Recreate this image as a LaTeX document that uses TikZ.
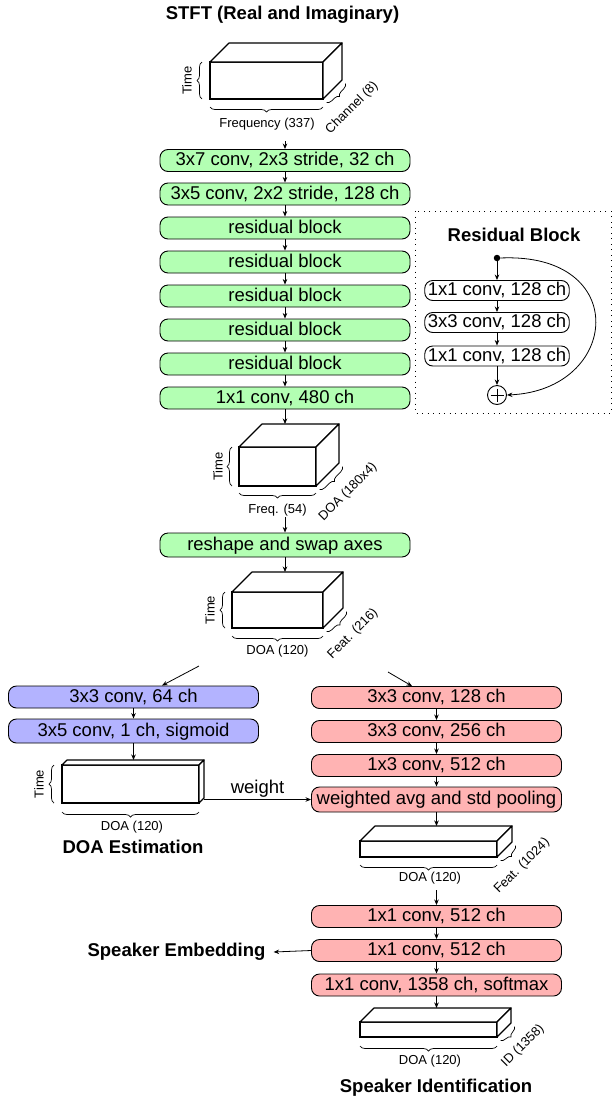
\documentclass[tikz,border=0pt]{standalone}
\usepackage{fontspec}
\setmainfont{Liberation Sans}
\usetikzlibrary{arrows.meta,decorations.pathreplacing,calc}

\definecolor{boxgreen}{RGB}{179,255,179}
\definecolor{boxblue}{RGB}{179,179,255}
\definecolor{boxred}{RGB}{255,179,179}

% cuboid: name, front-face centre x, y, width, height, depth
\newcommand\drawcube[6]{%
  \node[cubeface, minimum width=#4, minimum height=#5] (#1) at (#2,#3) {};
  \draw[cubeline] (#1.north west) -- ++(#6,-#6) -- ++(#4,0) -- (#1.north east) -- cycle;
  \draw[cubeline] (#1.north east) -- ++(#6,-#6) -- ++(0,#5) -- (#1.south east) -- cycle;
  \coordinate (#1-top) at ($(#1.north west)+(#6,-#6)$);
}

\begin{document}
\begin{tikzpicture}[x=1pt,y=-1pt,
  bigfont/.style={font=\fontsize{18.5}{22}\selectfont},
  smallfont/.style={font=\fontsize{13}{15}\selectfont},
  box/.style={draw, line width=0.9pt, rounded corners=8pt, minimum width=250pt,
    minimum height=22pt, inner sep=0pt, text height=13.5pt, text depth=3.5pt, bigfont},
  tallbox/.style={box, minimum height=24pt},
  rbox/.style={draw, line width=0.9pt, fill=white, rounded corners=8pt, inner xsep=3pt,
    inner ysep=0pt, minimum height=20pt, text height=13.5pt, text depth=3.5pt, bigfont},
  heading/.style={bigfont, font=\fontsize{18.5}{22}\selectfont\bfseries, inner sep=0pt},
  lbl/.style={smallfont, inner sep=0pt},
  cubeface/.style={draw, fill=white, line width=1.2pt, inner sep=0pt, outer sep=0pt},
  cubeline/.style={draw, fill=white, line width=1.2pt, line join=round},
  brc/.style={decorate, decoration={brace, amplitude=5pt}, line width=0.7pt},
  arr/.style={line width=0.8pt, -{Stealth[length=5.5pt,width=4.5pt]}}
]
\useasboundingbox (0,0) rectangle (613,1098);

% ---------------- input spectrogram ----------------
\node[heading] (title) at (282.5,15) {STFT (Real and Imaginary)};
\drawcube{c1}{266.5}{80.5}{113}{37}{19}
\draw[brc] (202,99) -- (202,62);
\node[lbl, rotate=90] (c1t) at (187,80.5) {Time};
\draw[brc] (323,107) -- (210,107);
\node[lbl] (c1f) at (267,124) {Frequency (337)};
\draw[brc] (345.5,83.5) -- (326.5,102.5);
\node[lbl, rotate=45] (c1c) at (352,108) {Channel (8)};
\coordinate (c1out) at (285,141);

% ---------------- shared trunk ----------------
\node[box, fill=boxgreen] (g1) at (285,160.5) {3x7 conv, 2x3 stride, 32 ch};
\node[box, fill=boxgreen] (g2) at (285,194) {3x5 conv, 2x2 stride, 128 ch};
\node[box, fill=boxgreen] (g3) at (285,228) {residual block};
\node[box, fill=boxgreen] (g4) at (285,262) {residual block};
\node[box, fill=boxgreen] (g5) at (285,296) {residual block};
\node[box, fill=boxgreen] (g6) at (285,330) {residual block};
\node[box, fill=boxgreen] (g7) at (285,364) {residual block};
\node[box, fill=boxgreen] (g8) at (285,398) {1x1 conv, 480 ch};

\draw[arr] (c1out) -- (g1.north);
\foreach \a/\b in {g1/g2,g2/g3,g3/g4,g4/g5,g5/g6,g6/g7,g7/g8}
  \draw[arr] (\a.south) -- (\b.north);

% ---------------- residual block detail ----------------
\draw[line width=1pt, dash pattern=on 1pt off 4.5pt] (415,211) rectangle (611,413);
\node[heading] (rtitle) at (514,235) {Residual Block};
\node[circle, fill, inner sep=0pt, minimum size=6.5pt] (dot) at (497,258) {};
\node[rbox] (rb1) at (497,290.5) {1x1 conv, 128 ch};
\node[rbox] (rb2) at (497,322.5) {3x3 conv, 128 ch};
\node[rbox] (rb3) at (497,356) {1x1 conv, 128 ch};
\node[circle, draw, line width=0.9pt, inner sep=0pt, minimum size=19pt] (plus) at (497,395) {};
\draw[line width=0.8pt] ($(plus.center)+(-6.5,0)$) -- ($(plus.center)+(6.5,0)$)
                        ($(plus.center)+(0,-6.5)$) -- ($(plus.center)+(0,6.5)$);
\draw[arr] (dot) -- (rb1.north);
\draw[arr] (rb1.south) -- (rb2.north);
\draw[arr] (rb2.south) -- (rb3.north);
\draw[arr] (rb3.south) -- (plus.north);
\draw[arr] (dot.east) .. controls (632,252) and (620,390) .. (plus.east);

% ---------------- trunk output ----------------
\drawcube{c2}{277.5}{466.5}{77}{39}{23}
\draw[arr] (g8.south) -- (g8.south |- c2-top);
\draw[brc] (232,486) -- (232,447);
\node[lbl, rotate=90] (c2t) at (218,466.5) {Time};
\draw[brc] (316,493) -- (239,493);
\node[lbl] (c2f) at (277.5,510) {Freq. (54)};
\draw[brc] (342.5,466.5) -- (319.5,489.5);
\node[lbl, rotate=45] (c2d) at (348,492) {DOA (180x4)};
\coordinate (c2out) at (285,517);

\node[tallbox, fill=boxgreen] (g9) at (285,545) {reshape and swap axes};
\draw[arr] (c2out) -- (g9.north);

\drawcube{c3}{277.5}{610}{91}{36}{20}
\draw[arr] (g9.south) -- (g9.south |- c3-top);
\draw[brc] (225,628) -- (225,592);
\node[lbl, rotate=90] (c3t) at (210,610) {Time};
\draw[brc] (323,636) -- (232,636);
\node[lbl] (c3f) at (277.5,651) {DOA (120)};
\draw[brc] (346.5,611.5) -- (326.5,631.5);
\node[lbl, rotate=45] (c3d) at (353,634) {Feat. (216)};
\coordinate (splitL) at (199,666);
\coordinate (splitR) at (388,672);

% ---------------- DOA branch ----------------
\node[box, fill=boxblue] (b1) at (133.5,697) {3x3 conv, 64 ch};
\node[tallbox, fill=boxblue] (b2) at (133.5,731) {3x5 conv, 1 ch, sigmoid};
\draw[arr] (splitL) -- ([xshift=28.5pt]b1.north);
\draw[arr] (b1.south) -- (b2.north);

\drawcube{cd}{130.5}{784}{137}{38}{5}
\draw[arr] (b2.south) -- (b2.south |- cd-top);
\draw[brc] (54,803) -- (54,765);
\node[lbl, rotate=90] (cdt) at (39,784) {Time};
\draw[brc] (199,812) -- (62,812);
\node[lbl] (cdf) at (132,827) {DOA (120)};
\node[heading] (doaest) at (133,847) {DOA Estimation};

% ---------------- speaker branch ----------------
\node[box, fill=boxred] (r1) at (436.5,697.5) {3x3 conv, 128 ch};
\node[box, fill=boxred] (r2) at (436.5,731.5) {3x3 conv, 256 ch};
\node[box, fill=boxred] (r3) at (436.5,765.5) {1x3 conv, 512 ch};
\node[box, fill=boxred, minimum height=25pt] (r4) at (436.5,799.5) {weighted avg and std pooling};
\draw[arr] (splitR) -- ([xshift=-24.5pt]r1.north);
\draw[arr] (r1.south) -- (r2.north);
\draw[arr] (r2.south) -- (r3.north);
\draw[arr] (r3.south) -- (r4.north);
\draw[arr] ($(r4.west -| cd.east)+(5,0)$) -- node[above=2pt, bigfont, inner sep=0pt] (wlbl) {weight} (r4.west);

\drawcube{c4}{428.5}{849}{137}{16}{15}
\draw[arr] (r4.south) -- (r4.south |- c4-top);
\draw[brc] (497,865) -- (360,865);
\node[lbl] (c4f) at (430,878) {DOA (120)};
\draw[brc] (515.5,845.5) -- (500.5,860.5);
\node[lbl, rotate=45] (c4d) at (522,866) {Feat. (1024)};
\coordinate (c4out) at (436.5,890);

\node[box, fill=boxred] (r5) at (436.5,916.5) {1x1 conv, 512 ch};
\node[box, fill=boxred] (r6) at (436.5,950.5) {1x1 conv, 512 ch};
\node[box, fill=boxred] (r7) at (436.5,985) {1x1 conv, 1358 ch, softmax};
\draw[arr] (c4out) -- (r5.north);
\draw[arr] (r5.south) -- (r6.north);
\draw[arr] (r6.south) -- (r7.north);

\node[heading] (emb) at (176.5,952) {Speaker Embedding};
\draw[arr] (r6.west) -- ([xshift=8pt]emb.east);

\drawcube{c5}{428.5}{1029.5}{137}{15}{14}
\draw[arr] (r7.south) -- (r7.south |- c5-top);
\draw[brc] (497,1046) -- (360,1046);
\node[lbl] (c5f) at (430,1061) {DOA (120)};
\draw[brc] (514.5,1026.5) -- (500.5,1040.5);
\node[lbl, rotate=45] (c5d) at (523,1046) {ID (1358)};
\node[heading] (spkid) at (436,1088) {Speaker Identification};

\end{tikzpicture}
\end{document}
